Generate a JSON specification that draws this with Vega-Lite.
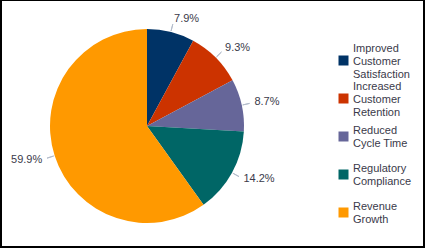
{
  "$schema": "https://vega.github.io/schema/vega-lite/v6.json",
  "width": 294,
  "height": 248,
  "padding": {"left": 0, "top": 2, "right": 131, "bottom": 0},
  "autosize": {"type": "none"},
  "background": "white",
  "config": {"view": {"stroke": null}, "font": "Liberation Sans"},
  "data": {
    "values": [
      {"category": "Improved Customer Satisfaction", "value": 0.079},
      {"category": "Increased Customer Retention", "value": 0.093},
      {"category": "Reduced Cycle Time", "value": 0.087},
      {"category": "Regulatory Compliance", "value": 0.142},
      {"category": "Revenue Growth", "value": 0.599}
    ]
  },
  "layer": [
    {
      "data": {"values": [{}]},
      "mark": {
        "type": "rect",
        "fill": null,
        "stroke": "#000000",
        "strokeWidth": 2,
        "x": 1,
        "x2": {"expr": "width + 130"},
        "y": -2,
        "y2": {"expr": "height - 3"},
        "clip": false
      },
      "encoding": {}
    },
    {
      "mark": {"type": "arc", "outerRadius": 97},
      "encoding": {
        "theta": {"field": "value", "type": "quantitative", "stack": true},
        "color": {
          "field": "category",
          "type": "nominal",
          "sort": null,
          "scale": {
            "domain": ["Improved Customer Satisfaction", "Increased Customer Retention", "Reduced Cycle Time", "Regulatory Compliance", "Revenue Growth"],
            "range": ["#003366", "#CC3300", "#666699", "#006666", "#FF9900"]
          },
          "legend": {
            "orient": "none",
            "legendX": 338,
            "legendY": 53,
            "title": null,
            "padding": 0,
            "symbolType": "square",
            "symbolSize": 100,
            "symbolStrokeWidth": 0,
            "symbolOpacity": 1,
            "labelFont": "Liberation Sans",
            "labelFontSize": 11,
            "labelColor": "#3a3a4a",
            "labelLimit": 200,
            "labelOffset": 4,
            "labelBaseline": "middle",
            "gridAlign": "all",
            "rowPadding": 0,
            "labelExpr": "datum.label == 'Improved Customer Satisfaction' ? ['Improved', 'Customer', 'Satisfaction'] : datum.label == 'Increased Customer Retention' ? ['Increased', 'Customer', 'Retention'] : datum.label == 'Reduced Cycle Time' ? ['Reduced', 'Cycle Time'] : datum.label == 'Regulatory Compliance' ? ['Regulatory', 'Compliance'] : ['Revenue', 'Growth']",
            "encode": {
              "labels": {
                "update": {
                  "dy": {"signal": "indexof(['Improved Customer Satisfaction', 'Increased Customer Retention'], datum.value) >= 0 ? -12 : -6"}
                }
              }
            }
          }
        }
      }
    },
    {
      "transform": [{"stack": "value", "groupby": [], "as": ["v0", "v1"]}],
      "mark": {
        "type": "arc",
        "outerRadius": 105,
        "innerRadius": 98,
        "fill": null,
        "stroke": "#b3bccb",
        "strokeWidth": 1,
        "theta": {"expr": "PI * (datum.v0 + datum.v1)"},
        "theta2": {"expr": "PI * (datum.v0 + datum.v1)"}
      },
      "encoding": {}
    },
    {
      "mark": {
        "type": "text",
        "radius": 110,
        "font": "Liberation Sans",
        "fontSize": 11,
        "color": "#3a3a4a",
        "baseline": "middle",
        "align": {"expr": "(datum.value_start + datum.value_end) / 2 > 0.5 ? 'right' : 'left'"}
      },
      "encoding": {
        "theta": {"field": "value", "type": "quantitative", "stack": true},
        "order": {"field": "category", "type": "nominal"},
        "text": {"field": "value", "type": "quantitative", "format": ".1%"}
      }
    }
  ]
}
